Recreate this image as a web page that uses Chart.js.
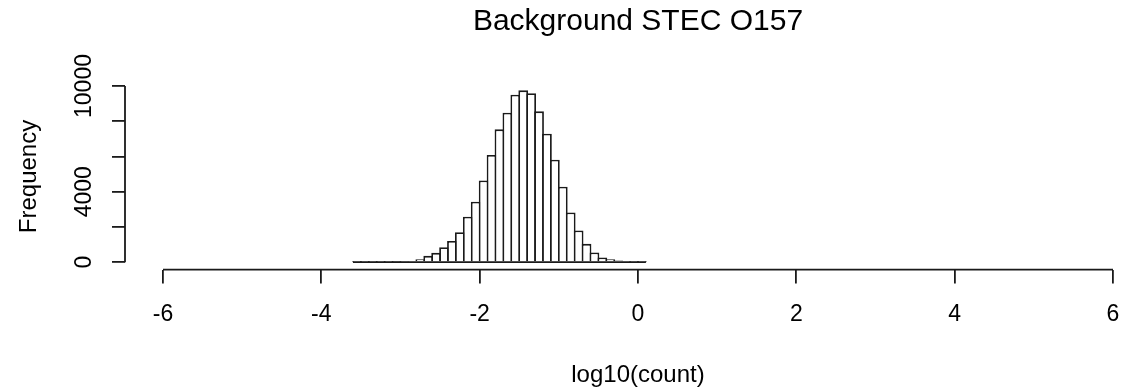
<!DOCTYPE html>
<html>
<head>
<meta charset="utf-8">
<script src="https://cdn.jsdelivr.net/npm/chart.js@4"></script>
<style>
  html, body { margin: 0; padding: 0; background: #fff; overflow: hidden; }
</style>
</head>
<body>
<!-- the R plot region runs past the right edge of the image, so the canvas is wider than the window -->
<canvas id="histChart" width="1151" height="387"></canvas>
<script>
// histogram breaks on log10(count), bin width 0.1
const breaks = [-3.6, -3.5, -3.4, -3.3, -3.2, -3.1, -3.0, -2.9, -2.8, -2.7,
  -2.6, -2.5, -2.4, -2.3, -2.2, -2.1, -2.0, -1.9, -1.8, -1.7,
  -1.6, -1.5, -1.4, -1.3, -1.2, -1.1, -1.0, -0.9, -0.8, -0.7,
  -0.6, -0.5, -0.4, -0.3, -0.2, -0.1, 0.0, 0.1];
// frequency per bin
const counts = [1, 2, 3, 5, 9, 16, 30, 60, 170, 360,
  530, 850, 1210, 1705, 2576, 3428, 4640, 6080, 7538, 8485,
  9508, 9754, 9584, 8561, 7292, 5815, 4280, 2822, 1799, 1040,
  550, 265, 170, 95, 40, 12, 4];
const xTicks = [-6, -4, -2, 0, 2, 4, 6];
const yTicks = [0, 2000, 4000, 6000, 8000, 10000];
const yLabels = ['0', '', '4000', '', '', '10000']; // R drops the overlapping ones

const fontFamily = '"Liberation Sans", Arial, sans-serif';
const lineColor = '#1a1a1a';
const textColor = '#000';

// R draws axis lines only from first to last tick, plus the zero-height rects
const rAxes = {
  id: 'rAxes',
  afterDatasetsDraw(chart) {
    const { ctx, chartArea, scales: { x, y } } = chart;
    ctx.save();
    ctx.strokeStyle = lineColor;
    ctx.lineWidth = 1.8;
    ctx.beginPath();
    ctx.moveTo(x.getPixelForValue(xTicks[0]), chartArea.bottom);
    ctx.lineTo(x.getPixelForValue(xTicks[xTicks.length - 1]), chartArea.bottom);
    ctx.moveTo(chartArea.left, y.getPixelForValue(yTicks[0]));
    ctx.lineTo(chartArea.left, y.getPixelForValue(yTicks[yTicks.length - 1]));
    ctx.moveTo(x.getPixelForValue(breaks[0]), y.getPixelForValue(0));
    ctx.lineTo(x.getPixelForValue(breaks[breaks.length - 1]), y.getPixelForValue(0));
    ctx.stroke();
    ctx.restore();
  }
};

const ctx = document.getElementById('histChart').getContext('2d');
const histData = counts.map((c, i) => ({ x: (breaks[i] + breaks[i + 1]) / 2, y: c }));

new Chart(ctx, {
  type: 'bar',
  data: {
    datasets: [{
      data: histData,
      backgroundColor: '#fff',
      borderColor: lineColor,
      borderWidth: 1.8,
      borderSkipped: 'start',
      barPercentage: 1.23, // overlap neighbours so shared edges are one line
      categoryPercentage: 1
    }]
  },
  options: {
    responsive: false,
    animation: false,
    plugins: {
      legend: { display: false },
      tooltip: { enabled: false },
      title: {
        display: true,
        text: 'Background STEC O157',
        color: textColor,
        fullSize: false,
        font: { family: fontFamily, size: 30, weight: 'normal', lineHeight: 1.2 },
        padding: { top: 4, bottom: 43.4 }
      }
    },
    scales: {
      x: {
        type: 'linear',
        min: -6.48,
        max: 6.48,
        offset: false,
        afterBuildTicks: s => { s.ticks = xTicks.map(v => ({ value: v })); },
        afterFit: s => { s.height = 117.4; },
        grid: { offset: false, drawOnChartArea: false, tickLength: 14, color: lineColor, lineWidth: 1.8 },
        border: { display: false },
        ticks: {
          color: textColor,
          font: { family: fontFamily, size: 23 },
          padding: 17,
          autoSkip: false,
          maxRotation: 0,
          callback: v => String(v)
        },
        title: {
          display: true,
          text: 'log10(count)',
          color: textColor,
          font: { family: fontFamily, size: 24, lineHeight: 1 },
          padding: { top: 0, bottom: 0 }
        }
      },
      y: {
        min: -420,
        max: 10147,
        afterBuildTicks: s => { s.ticks = yTicks.map(v => ({ value: v })); },
        afterFit: s => { s.width = 125; },
        grid: { drawOnChartArea: false, tickLength: 13, color: lineColor, lineWidth: 1.8 },
        border: { display: false },
        ticks: {
          color: textColor,
          font: { family: fontFamily, size: 23 },
          minRotation: 90,
          maxRotation: 90,
          crossAlign: 'center',
          padding: -5,
          autoSkip: false,
          callback: (v, i) => yLabels[i]
        },
        title: {
          display: true,
          text: 'Frequency',
          color: textColor,
          font: { family: fontFamily, size: 24, lineHeight: 1 },
          padding: { top: 17, bottom: 0 }
        }
      }
    }
  },
  plugins: [rAxes]
});
</script>
</body>
</html>
